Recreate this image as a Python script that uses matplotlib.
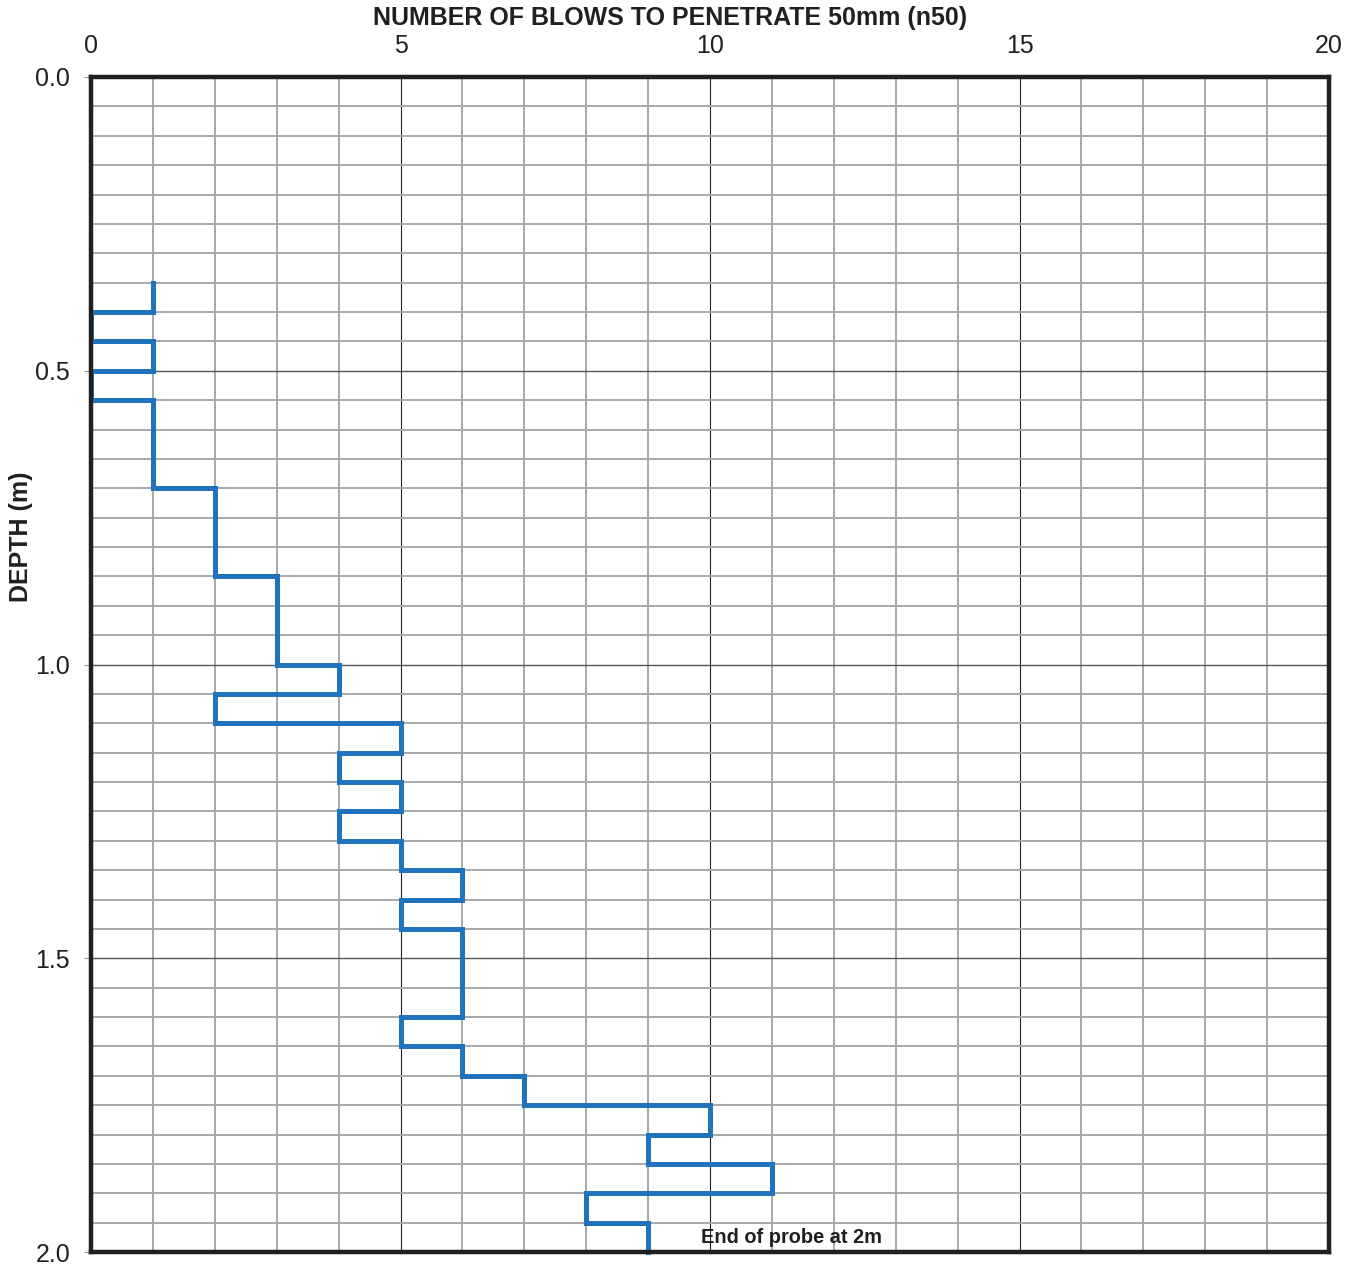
import numpy as np
import matplotlib
matplotlib.use("Agg")
import matplotlib.pyplot as plt
from matplotlib.ticker import MultipleLocator

plt.rcParams['font.family'] = ['Liberation Sans', 'DejaVu Sans']

# Depth intervals (top of each 0.05 m increment) and blow counts
depth_top = [0.35, 0.40, 0.45, 0.50, 0.55, 0.60, 0.65, 0.70, 0.75, 0.80,
             0.85, 0.90, 0.95, 1.00, 1.05, 1.10, 1.15, 1.20, 1.25, 1.30,
             1.35, 1.40, 1.45, 1.50, 1.55, 1.60, 1.65, 1.70, 1.75, 1.80,
             1.85, 1.90, 1.95]
blows = [1, 0, 1, 0, 1, 1, 1, 2, 2, 2,
         3, 3, 3, 4, 2, 5, 4, 5, 4, 5,
         6, 5, 6, 6, 6, 5, 6, 7, 10, 9,
         11, 8, 9]
interval = 0.05

x_ticks = [0, 5, 10, 15, 20]
y_ticks = [0.0, 0.5, 1.0, 1.5, 2.0]

W, H = 1359, 1264
fig = plt.figure(figsize=(W/100, H/100), dpi=100)
ax = fig.add_axes([91/W, 1 - 1252/H, (1329-91)/W, (1252-77)/H])

# step profile
tops = np.array(depth_top)
bots = tops + interval
xs = np.repeat(blows, 2)
ys = np.column_stack([tops, bots]).ravel()
ax.plot(xs, ys, color='#1f74bd', lw=3.6, solid_joinstyle='miter', zorder=3, clip_on=False)

ax.set_xlim(0, 20)
ax.set_ylim(2.0, 0.0)
ax.xaxis.set_minor_locator(MultipleLocator(1))
ax.yaxis.set_minor_locator(MultipleLocator(0.05))
ax.set_xticks(x_ticks)
ax.set_yticks(y_ticks)
ax.set_yticklabels([f"{v:.1f}" for v in y_ticks])

ax.grid(which='minor', color='#a8a8a8', lw=1.4, zorder=1)
ax.grid(which='major', axis='x', color='#222222', lw=0.8, zorder=1)
ax.grid(which='major', axis='y', color='#555555', lw=1.0, zorder=1)

ax.xaxis.tick_top()
ax.tick_params(axis='x', which='major', length=0, labelsize=18, pad=14, labelcolor='#231f20')
ax.tick_params(axis='y', which='major', length=5, color='#999999', labelsize=18, pad=10,
               labelcolor='#231f20')
ax.tick_params(which='minor', length=0)

for s in ax.spines.values():
    s.set_linewidth(3.2)
    s.set_color('#231f20')
    s.set_zorder(4)

fig.text(670/W, 1 - 18/H, 'NUMBER OF BLOWS TO PENETRATE 50mm (n50)', fontsize=18,
         fontweight='bold', ha='center', va='center', color='#231f20')
fig.text(21/W, 1 - 537/H, 'DEPTH (m)', fontsize=18, fontweight='bold', rotation=90,
         ha='center', va='center', color='#231f20')

ax.text(11.32, 1.976, 'End of probe at 2m', fontsize=14.4, fontweight='bold',
        ha='center', va='center', color='#231f20', zorder=5)

fig.savefig('out.png', dpi=100)
